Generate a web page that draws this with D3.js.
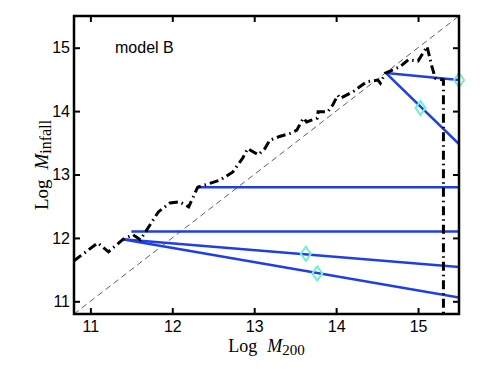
<!DOCTYPE html>
<html>
<head>
<meta charset="utf-8">
<script src="https://cdn.jsdelivr.net/npm/d3@7"></script>
<style>
	body { margin: 0; background: #fff; }
	svg { display: block; }
</style>
</head>
<body>
<script>
// axis ticks
const xTicks = [11, 12, 13, 14, 15];
const yTicks = [11, 12, 13, 14, 15];

// black dash-dot curve (log M200, log Minfall)
const curveX = [10.8, 11.09, 11.22, 11.40, 11.52, 11.61, 11.83, 11.97, 12.09, 12.20, 12.31, 12.58, 12.74, 12.86, 12.92, 13.05, 13.13, 13.19, 13.31, 13.44, 13.52, 13.60, 13.64, 13.77, 13.78, 13.90, 13.96, 14.02, 14.05, 14.21, 14.37, 14.51, 14.54, 14.60, 14.78, 14.88, 15.00, 15.11, 15.17, 15.21, 15.31, 15.31];
const curveY = [11.64, 11.92, 11.78, 11.98, 12.05, 11.97, 12.41, 12.55, 12.57, 12.49, 12.80, 12.91, 13.04, 13.26, 13.41, 13.31, 13.41, 13.54, 13.60, 13.65, 13.70, 13.89, 13.83, 13.89, 13.99, 13.99, 14.10, 14.25, 14.20, 14.31, 14.46, 14.49, 14.44, 14.60, 14.70, 14.81, 14.79, 15.02, 14.70, 14.52, 14.49, 10.8];

// blue tracks: start and end
const trackX0 = [14.61, 14.61, 12.31, 11.50, 11.39, 11.39];
const trackY0 = [14.60, 14.60, 12.80, 12.10, 11.98, 11.98];
const trackX1 = [15.5, 15.5, 15.5, 15.5, 15.5, 15.5];
const trackY1 = [14.49, 13.48, 12.80, 12.10, 11.54, 11.06];

// cyan diamonds
const diamondX = [15.5, 15.03, 13.63, 13.77];
const diamondY = [14.49, 14.05, 11.75, 11.44];

const width = 491, height = 369;
const margin = { left: 74, top: 16, right: 32, bottom: 55 };
const innerW = width - margin.left - margin.right;
const innerH = height - margin.top - margin.bottom;

const x = d3.scaleLinear().domain([10.8, 15.5]).range([0, innerW]);
const y = d3.scaleLinear().domain([10.8, 15.5]).range([innerH, 0]);

const svg = d3.select("body").append("svg")
	.attr("width", width)
	.attr("height", height);

const g = svg.append("g").attr("transform", `translate(${margin.left},${margin.top})`);

svg.append("defs").append("clipPath").attr("id", "clip")
	.append("rect").attr("width", innerW).attr("height", innerH);

const plot = g.append("g").attr("clip-path", "url(#clip)");

// one-to-one line
plot.append("line")
	.attr("x1", x(10.8)).attr("y1", y(10.8))
	.attr("x2", x(15.5)).attr("y2", y(15.5))
	.attr("stroke", "#333")
	.attr("stroke-width", 0.8)
	.attr("stroke-dasharray", "6,4");

// blue tracks
trackX0.forEach((d, i) => {
	plot.append("line")
		.attr("x1", x(d)).attr("y1", y(trackY0[i]))
		.attr("x2", x(trackX1[i])).attr("y2", y(trackY1[i]))
		.attr("stroke", "#1f3ee6")
		.attr("stroke-width", 2.5);
});

// dash-dot curve
const curve = curveX.map((d, i) => [d, curveY[i]]);
plot.append("path")
	.attr("d", d3.line().x((d) => x(d[0])).y((d) => y(d[1]))(curve))
	.attr("fill", "none")
	.attr("stroke", "#000")
	.attr("stroke-width", 3)
	.attr("stroke-dasharray", "9,4,1.5,4");

// diamonds
diamondX.forEach((d, i) => {
	g.append("path")
		.attr("d", "M0,-7L5,0L0,7L-5,0Z")
		.attr("transform", `translate(${x(d)},${y(diamondY[i])})`)
		.attr("fill", "none")
		.attr("stroke", "#6ff0d2")
		.attr("stroke-width", 2);
});

// axes, ticks pointing inward on all four sides
const tickFont = "'Liberation Sans', Arial, sans-serif";
const axBottom = g.append("g").attr("transform", `translate(0,${innerH})`)
	.call(d3.axisBottom(x).tickValues(xTicks).tickFormat(d3.format("d")).tickSizeInner(-6).tickSizeOuter(0).tickPadding(7));
const axLeft = g.append("g")
	.call(d3.axisLeft(y).tickValues(yTicks).tickFormat(d3.format("d")).tickSizeInner(-6).tickSizeOuter(0).tickPadding(4));
const axTop = g.append("g")
	.call(d3.axisTop(x).tickValues(xTicks).tickSizeInner(-6).tickSizeOuter(0).tickFormat(""));
const axRight = g.append("g").attr("transform", `translate(${innerW},0)`)
	.call(d3.axisRight(y).tickValues(yTicks).tickSizeInner(-6).tickSizeOuter(0).tickFormat(""));

[axBottom, axLeft, axTop, axRight].forEach((a) => {
	a.select(".domain").remove();
	a.selectAll(".tick line").attr("stroke", "#000").attr("stroke-width", 2);
	a.selectAll("text").attr("font-family", tickFont).attr("font-size", 16).attr("fill", "#000");
});

g.append("rect")
	.attr("width", innerW).attr("height", innerH)
	.attr("fill", "none")
	.attr("stroke", "#000")
	.attr("stroke-width", 2.5);

// model label
g.append("text")
	.attr("x", 41).attr("y", 37)
	.attr("font-family", tickFont)
	.attr("font-size", 16)
	.text("model B");

// axis titles
const serif = "'Liberation Serif', 'Times New Roman', serif";
const xLabel = svg.append("text")
	.attr("x", margin.left + innerW / 2)
	.attr("y", 352)
	.attr("text-anchor", "middle")
	.attr("font-family", serif)
	.attr("font-size", 18);
xLabel.append("tspan").text("Log");
xLabel.append("tspan").attr("dx", 10).attr("font-style", "italic").text("M");
xLabel.append("tspan").attr("font-size", 15).attr("dy", 3).text("200");

const yLabel = svg.append("text")
	.attr("transform", `translate(48,${margin.top + innerH / 2}) rotate(-90)`)
	.attr("text-anchor", "middle")
	.attr("font-family", serif)
	.attr("font-size", 19);
yLabel.append("tspan").text("Log");
yLabel.append("tspan").attr("dx", 10).attr("font-style", "italic").text("M");
yLabel.append("tspan").attr("font-size", 16).attr("dy", 3).text("infall");
</script>
</body>
</html>
